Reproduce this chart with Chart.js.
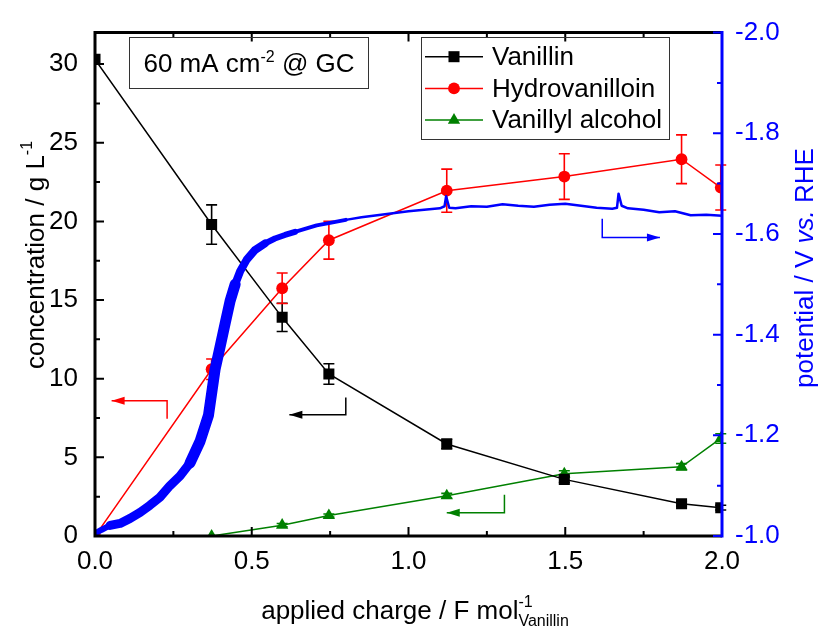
<!DOCTYPE html>
<html>
<head>
<meta charset="utf-8">
<script src="https://cdn.jsdelivr.net/npm/chart.js@4.4.1/dist/chart.umd.min.js"></script>
<style>
  html, body { margin: 0; padding: 0; background: #fff; }
  #wrap { width: 824px; height: 633px; }
</style>
</head>
<body>
<div id="wrap"><canvas id="chart" width="824" height="633"></canvas></div>
<script>
// --- data ---
const charge = [0, 0.372, 0.597, 0.746, 1.122, 1.497, 1.871, 1.996];
const vanillin = [30.3, 19.8, 13.9, 10.3, 5.85, 3.6, 2.05, 1.8];
const vanillinErr = [0, 1.25, 0.9, 0.65, 0.3, 0.2, 0.15, 0.15];
const hydrovanilloin = [0, 10.6, 15.75, 18.8, 21.95, 22.85, 23.95, 22.15];
const hydrovanilloinErr = [0, 0.65, 0.97, 1.2, 1.37, 1.45, 1.55, 1.43];
const alcohol = [0, 0, 0.69, 1.3, 2.56, 3.95, 4.4, 6.2];
const alcoholErr = [0, 0, 0.1, 0.1, 0.15, 0.2, 0.2, 0.3];

const potentialCharge = [0, 0.02, 0.048, 0.08, 0.112, 0.144, 0.175, 0.207, 0.239, 0.271, 0.303, 0.335, 0.362, 0.383, 0.399, 0.415, 0.431, 0.447, 0.463, 0.484, 0.51, 0.542, 0.574, 0.606, 0.638, 0.675, 0.707, 0.75, 0.8, 0.85, 0.9, 0.95, 1.0, 1.05, 1.1, 1.115, 1.12, 1.13, 1.15, 1.2, 1.25, 1.3, 1.35, 1.4, 1.45, 1.5, 1.55, 1.6, 1.65, 1.665, 1.67, 1.68, 1.7, 1.75, 1.8, 1.85, 1.9, 1.95, 2.0];
const potential = [-1.005, -1.012, -1.021, -1.025, -1.035, -1.047, -1.061, -1.077, -1.1, -1.119, -1.145, -1.188, -1.24, -1.331, -1.376, -1.422, -1.467, -1.5, -1.526, -1.549, -1.568, -1.581, -1.591, -1.598, -1.604, -1.611, -1.617, -1.622, -1.628, -1.633, -1.637, -1.641, -1.645, -1.648, -1.651, -1.655, -1.675, -1.652, -1.651, -1.655, -1.654, -1.659, -1.656, -1.654, -1.658, -1.66, -1.656, -1.652, -1.65, -1.652, -1.68, -1.656, -1.651, -1.648, -1.643, -1.645, -1.637, -1.638, -1.636];

const xTicks = [0, 0.5, 1.0, 1.5, 2.0];
const leftTicks = [0, 5, 10, 15, 20, 25, 30];
const rightTicks = [-1.0, -1.2, -1.4, -1.6, -1.8, -2.0];

const FONT = '"Liberation Sans", Arial, sans-serif';
const BLUE = '#0000ff', RED = '#ff0000', GREEN = '#008000';

// arrows pointing to the axis of each curve (data units of x / left y)
const guideArrows = [
  { color: RED,   pts: [[0.23, 7.45], [0.23, 8.6], [0.053, 8.6]] },
  { color: '#000', pts: [[0.80, 8.8], [0.80, 7.7], [0.62, 7.7]] },
  { color: GREEN, pts: [[1.306, 2.62], [1.306, 1.48], [1.122, 1.48]] },
  { color: BLUE,  pts: [[1.618, 20.17], [1.618, 18.98], [1.802, 18.98]] }
];

function pts(xs, ys) { return xs.map((v, i) => ({ x: v, y: ys[i] })); }

function drawRuns(ctx, runs, x, y) {
  // runs: text pieces, centred on x, alphabetic baseline at y
  let total = 0, cur = 0;
  runs.forEach(r => {
    ctx.font = (r.style || '') + ' ' + r.size + 'px ' + FONT;
    r.w = ctx.measureText(r.t).width;
    r.at = cur;
    if (!r.stay) cur += r.w;
    total = Math.max(total, r.at + r.w);
  });
  const x0 = x - total / 2;
  ctx.textAlign = 'left';
  ctx.textBaseline = 'alphabetic';
  runs.forEach(r => {
    ctx.font = (r.style || '') + ' ' + r.size + 'px ' + FONT;
    ctx.fillText(r.t, x0 + r.at, y + (r.dy || 0));
  });
}

const errorBars = {
  id: 'errorBars',
  beforeDatasetsDraw(chart) {
    const { ctx, scales: { x, y } } = chart;
    const sets = [[vanillin, vanillinErr, '#000'], [hydrovanilloin, hydrovanilloinErr, RED], [alcohol, alcoholErr, GREEN]];
    ctx.save();
    ctx.lineWidth = 1.6;
    sets.forEach(([vals, errs, col]) => {
      ctx.strokeStyle = col;
      vals.forEach((v, i) => {
        if (!errs[i]) return;
        const px = x.getPixelForValue(charge[i]);
        const t = y.getPixelForValue(v + errs[i]);
        const b = y.getPixelForValue(v - errs[i]);
        ctx.beginPath();
        ctx.moveTo(px, t); ctx.lineTo(px, b);
        ctx.moveTo(px - 5.5, t); ctx.lineTo(px + 5.5, t);
        ctx.moveTo(px - 5.5, b); ctx.lineTo(px + 5.5, b);
        ctx.stroke();
      });
    });
    ctx.restore();
  }
};

const frame = {
  id: 'frame',
  afterDatasetsDraw(chart) {
    const { ctx, chartArea: a, scales: { x, y, y2 } } = chart;
    ctx.save();
    ctx.lineWidth = 2;
    ctx.strokeStyle = '#000';
    ctx.beginPath();
    for (let v = 0; v <= 2.0001; v += 0.25) {
      const px = x.getPixelForValue(v);
      const len = Math.abs(v * 2 - Math.round(v * 2)) < 1e-6 ? 9 : 5;
      ctx.moveTo(px, a.bottom); ctx.lineTo(px, a.bottom - len);
      ctx.moveTo(px, a.top); ctx.lineTo(px, a.top + len);
    }
    for (let v = 0; v <= 32; v += 2.5) {
      const py = y.getPixelForValue(v);
      const len = v % 5 === 0 ? 9 : 5;
      ctx.moveTo(a.left, py); ctx.lineTo(a.left + len, py);
    }
    ctx.stroke();
    ctx.lineWidth = 3;
    ctx.beginPath();
    ctx.moveTo(a.right, a.top); ctx.lineTo(a.left, a.top);
    ctx.lineTo(a.left, a.bottom); ctx.lineTo(a.right, a.bottom);
    ctx.stroke();
    // right (potential) axis
    ctx.strokeStyle = BLUE;
    ctx.lineWidth = 2;
    ctx.beginPath();
    for (let k = 10; k <= 20; k++) {
      const py = y2.getPixelForValue(-k / 10);
      const len = k % 2 === 0 ? 9 : 5;
      ctx.moveTo(a.right, py); ctx.lineTo(a.right - len, py);
    }
    ctx.stroke();
    ctx.lineWidth = 3;
    ctx.beginPath();
    ctx.moveTo(a.right, a.top - 1.5); ctx.lineTo(a.right, a.bottom + 1.5);
    ctx.stroke();
    ctx.restore();
  }
};

const annotations = {
  id: 'annotations',
  afterDraw(chart) {
    const { ctx, scales: { x, y } } = chart;
    ctx.save();
    // guide arrows
    guideArrows.forEach(g => {
      const p = g.pts.map(q => [x.getPixelForValue(q[0]), y.getPixelForValue(q[1])]);
      ctx.strokeStyle = g.color; ctx.fillStyle = g.color; ctx.lineWidth = 1.5;
      ctx.beginPath();
      ctx.moveTo(p[0][0], p[0][1]);
      for (let i = 1; i < p.length; i++) ctx.lineTo(p[i][0], p[i][1]);
      ctx.stroke();
      const [tx, ty] = p[p.length - 1];
      const dir = Math.sign(tx - p[p.length - 2][0]);
      ctx.beginPath();
      ctx.moveTo(tx, ty);
      ctx.lineTo(tx - dir * 13, ty - 4);
      ctx.lineTo(tx - dir * 13, ty + 4);
      ctx.closePath();
      ctx.fill();
    });
    // condition box
    ctx.strokeStyle = '#333'; ctx.lineWidth = 1;
    ctx.strokeRect(129.5, 37.5, 239, 51);
    ctx.fillStyle = '#000';
    drawRuns(ctx, [
      { t: '60 mA cm', size: 26 },
      { t: '-2', size: 16, dy: -10 },
      { t: ' @ GC', size: 26 }
    ], 249, 72);
    // legend
    ctx.strokeRect(421.5, 37.5, 248, 102);
    const rows = chart.data.datasets.slice(0, 3);
    rows.forEach((ds, i) => {
      const ry = 56.7 + i * 31.7;
      ctx.strokeStyle = ds.borderColor; ctx.fillStyle = ds.backgroundColor;
      ctx.lineWidth = 1.5;
      ctx.beginPath(); ctx.moveTo(425, ry); ctx.lineTo(483, ry); ctx.stroke();
      Chart.helpers.drawPoint(ctx, { pointStyle: ds.pointStyle, radius: ds.pointRadius, rotation: 0, borderWidth: 0 }, 454, ry);
      ctx.fillStyle = '#000';
      ctx.font = '26px ' + FONT;
      ctx.textAlign = 'left'; ctx.textBaseline = 'middle';
      ctx.fillText(ds.label, 492, ry + 1);
    });
    // axis titles
    ctx.fillStyle = '#000';
    drawRuns(ctx, [
      { t: 'applied charge / F mol', size: 26 },
      { t: '-1', size: 16, dy: -12, stay: true },
      { t: 'Vanillin', size: 16, dy: 7 }
    ], 415, 619);
    ctx.save();
    ctx.translate(44, 255);
    ctx.rotate(-Math.PI / 2);
    drawRuns(ctx, [
      { t: 'concentration / g L', size: 26 },
      { t: '-1', size: 16, dy: -12 }
    ], 0, 0);
    ctx.restore();
    ctx.save();
    ctx.translate(813, 268);
    ctx.rotate(-Math.PI / 2);
    ctx.fillStyle = BLUE;
    drawRuns(ctx, [
      { t: 'potential / V ', size: 26 },
      { t: 'vs.', size: 26, style: 'italic' },
      { t: ' RHE', size: 26 }
    ], 0, 0);
    ctx.restore();
    ctx.restore();
  }
};

// the measured trace is a noisy band, wider where it climbs
function potentialWidth(c) {
  const m = (c.p0.parsed.x + c.p1.parsed.x) / 2;
  if (m < 0.05) return 6;
  if (m < 0.3) return 9;
  if (m < 0.45) return 11;
  if (m < 0.55) return 8;
  if (m < 0.65) return 6;
  if (m < 0.8) return 4;
  return 2.5;
}

new Chart(document.getElementById('chart'), {
  type: 'line',
  data: {
    datasets: [
      { label: 'Vanillin', data: pts(charge, vanillin), yAxisID: 'y', borderColor: '#000', backgroundColor: '#000',
        pointStyle: 'rect', pointRadius: 7.8, pointBorderWidth: 0, borderWidth: 1.5, order: 1 },
      { label: 'Hydrovanilloin', data: pts(charge, hydrovanilloin), yAxisID: 'y', borderColor: RED, backgroundColor: RED,
        pointStyle: 'circle', pointRadius: 5.9, pointBorderWidth: 0, borderWidth: 1.5, order: 1 },
      { label: 'Vanillyl alcohol', data: pts(charge, alcohol), yAxisID: 'y', borderColor: GREEN, backgroundColor: GREEN,
        pointStyle: 'triangle', pointRadius: 7.1, pointBorderWidth: 0, borderWidth: 1.5, order: 1 },
      { label: 'potential', data: pts(potentialCharge, potential), yAxisID: 'y2', borderColor: BLUE,
        pointRadius: 0, borderWidth: 2.5, borderJoinStyle: 'round', borderCapStyle: 'round',
        segment: { borderWidth: potentialWidth }, order: 0 }
    ]
  },
  options: {
    responsive: false,
    animation: false,
    layout: { padding: { top: 24, left: 0, right: 0, bottom: 0 } },
    plugins: { legend: { display: false }, tooltip: { enabled: false } },
    scales: {
      x: {
        type: 'linear', min: 0, max: 2,
        afterBuildTicks: s => { s.ticks = xTicks.map(v => ({ value: v })); },
        afterFit: s => { s.height = 97; },
        grid: { display: false, drawTicks: false, tickLength: 0 },
        border: { display: false },
        ticks: { padding: 10, color: '#000', font: { family: FONT, size: 26 }, maxRotation: 0,
          callback: v => v.toFixed(1) }
      },
      y: {
        position: 'left', min: 0, max: 32,
        afterBuildTicks: s => { s.ticks = leftTicks.map(v => ({ value: v })); },
        afterFit: s => { s.width = 95; },
        grid: { display: false, drawTicks: false, tickLength: 0 },
        border: { display: false },
        ticks: { padding: 17, color: '#000', font: { family: FONT, size: 26 }, callback: v => String(v) }
      },
      y2: {
        position: 'right', min: -2, max: -1, reverse: true,
        afterBuildTicks: s => { s.ticks = rightTicks.map(v => ({ value: v })); },
        afterFit: s => { s.width = 102; },
        grid: { display: false, drawTicks: false, tickLength: 0 },
        border: { display: false },
        ticks: { padding: 13, color: BLUE, font: { family: FONT, size: 26 }, callback: v => v.toFixed(1) }
      }
    }
  },
  plugins: [errorBars, frame, annotations]
});
</script>
</body>
</html>
